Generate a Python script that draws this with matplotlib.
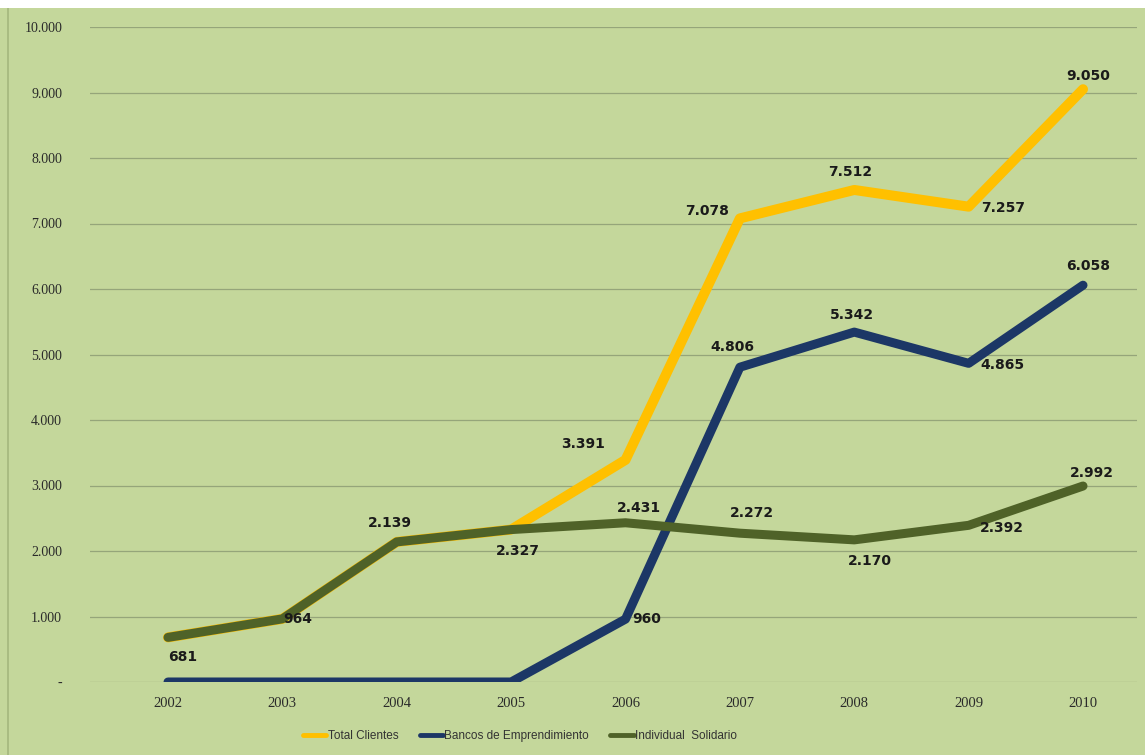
import matplotlib.pyplot as plt
from matplotlib.patches import Rectangle

# data
years = [2002, 2003, 2004, 2005, 2006, 2007, 2008, 2009, 2010]
total_clientes = [681, 964, 2139, 2327, 3391, 7078, 7512, 7257, 9050]
bancos = [0, 0, 0, 0, 960, 4806, 5342, 4865, 6058]
individual = [681, 964, 2139, 2327, 2431, 2272, 2170, 2392, 2992]
y_ticks = [0, 1000, 2000, 3000, 4000, 5000, 6000, 7000, 8000, 9000, 10000]
y_tick_labels = ["-", "1.000", "2.000", "3.000", "4.000", "5.000",
                 "6.000", "7.000", "8.000", "9.000", "10.000"]

# label offsets in pixels (dx, dy) for each point, None = no label
total_off = [None, None, None, None, (-42, 16), (-33, 7), (-4, 18), (34, -1), (5, 13)]
bancos_off = [None, None, None, None, (21, 0), (-8, 20), (-2, 17), (34, -2), (5, 19)]
indiv_off = [(15, -20), (15, 0), (-7, 19), (7, -21), (13, 15), (12, 20), (16, -21), (33, -3), (9, 13)]

bg = "#c4d79b"
c_total = "#ffc000"
c_bancos = "#1c3766"
c_indiv = "#4f6228"

fig = plt.figure(figsize=(11.45, 7.55), dpi=100, facecolor=bg)
ax = fig.add_axes([90 / 1145, 73 / 755, (1137 - 90) / 1145, (682 - 27) / 755])
ax.set_facecolor(bg)

# white strip at the top / thin left border as in the screenshot
fig.patches.append(Rectangle((0, 1 - 8 / 755), 1, 8 / 755, transform=fig.transFigure,
                             facecolor="white", edgecolor="none", zorder=-1))
fig.patches.append(Rectangle((7 / 1145, 0), 2 / 1145, 1 - 8 / 755, transform=fig.transFigure,
                             facecolor="#a9bc82", edgecolor="none", zorder=-1))

ax.plot(years, total_clientes, color=c_total, lw=7.2, solid_joinstyle="round",
        solid_capstyle="round", label="Total Clientes", zorder=3)
ax.plot(years, bancos, color=c_bancos, lw=6.5, solid_joinstyle="round",
        solid_capstyle="round", label="Bancos de Emprendimiento", zorder=4)
ax.plot(years, individual, color=c_indiv, lw=6.5, solid_joinstyle="round",
        solid_capstyle="round", label="Individual  Solidario", zorder=5)


def fmt(v):
    return "{:,}".format(v).replace(",", ".")


for vals, offs in [(total_clientes, total_off), (bancos, bancos_off), (individual, indiv_off)]:
    for x, v, o in zip(years, vals, offs):
        if o is None:
            continue
        ax.annotate(fmt(v), (x, v), xytext=o, textcoords="offset pixels",
                    ha="center", va="center", fontsize=10, fontweight="bold",
                    color="#1a1a1a", zorder=6)

ax.set_xlim(2001.318, 2010.472)
ax.set_ylim(0, 10000)
ax.set_yticks(y_ticks)
ax.set_yticklabels(y_tick_labels)
ax.set_xticks(years)
ax.set_xticklabels([str(y) for y in years])
ax.tick_params(axis="y", length=0, pad=20, labelsize=10, labelcolor="#2a2a2a")
ax.tick_params(axis="x", length=0, pad=11, labelsize=10.5, labelcolor="#2a2a2a")
for lab in ax.get_yticklabels() + ax.get_xticklabels():
    lab.set_family("Liberation Serif")
ax.grid(axis="y", color="#95a57a", lw=0.9)
ax.set_axisbelow(True)
for s in ax.spines.values():
    s.set_visible(False)

leg = fig.legend(loc="center", bbox_to_anchor=(520 / 1145, 1 - 736 / 755), ncol=3,
                 frameon=False, handlelength=2.0, handletextpad=0.1, columnspacing=1.8,
                 prop={"family": "Liberation Sans", "size": 8.5})
for line in leg.get_lines():
    line.set_linewidth(3.5)
for t in leg.get_texts():
    t.set_color("#333333")

fig.savefig("out.png", dpi=100, facecolor=bg)
